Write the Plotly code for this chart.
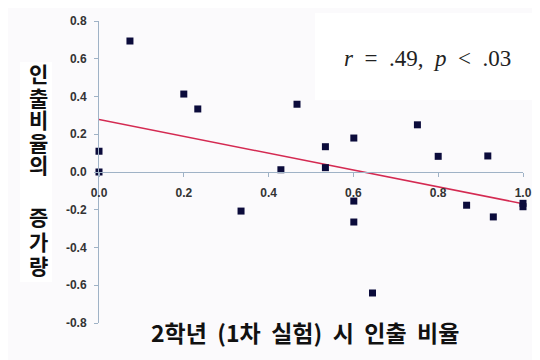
import plotly.graph_objects as go

# Data
x_vals = [0.0, 0.0, 0.073, 0.2, 0.233, 0.335, 0.429, 0.467, 0.534, 0.534,
          0.601, 0.601, 0.601, 0.645, 0.751, 0.80, 0.867, 0.917, 0.93, 1.0, 1.0]
y_vals = [0.11, 0.0, 0.694, 0.413, 0.334, -0.207, 0.012, 0.359, 0.134, 0.023,
          0.18, -0.154, -0.265, -0.641, 0.25, 0.083, -0.176, 0.085, -0.238, -0.166, -0.184]
fit_x = [0.0, 1.0]
fit_y = [0.278, -0.168]
x_ticks = [0.0, 0.2, 0.4, 0.6, 0.8, 1.0]
y_ticks = [-0.8, -0.6, -0.4, -0.2, 0.0, 0.2, 0.4, 0.6, 0.8]
y_title_chars = ["인", "출", "비", "율", "의", "증", "가", "량"]
y_title_pix = [73, 97, 119, 142, 164, 216, 241, 265]  # vertical pixel centres (window px)

AXIS = "#9fb2c6"
BG = "#fbfafc"
OFF = 8  # page body margin of the browser
FW, FH = 540 - OFF, 360 - OFF
# plot area in window pixels: x 99..523, y 21..323
L, T = 99 - OFF, 21 - OFF
R, B = FW - (523 - OFF), FH - (323 - OFF)
PW, PH = FW - L - R, FH - T - B


def px(xp):
    return (xp - OFF - L) / PW


def py(yp):
    return (FH - B - (yp - OFF)) / PH


fig = go.Figure()
fig.add_trace(go.Scatter(x=fit_x, y=fit_y, mode="lines",
                         line=dict(color="#d42a52", width=1.6),
                         hoverinfo="skip", showlegend=False, cliponaxis=False))
fig.add_trace(go.Scatter(x=x_vals, y=y_vals, mode="markers",
                         marker=dict(symbol="square", size=7, color="#0b0b3b",
                                     line=dict(width=0)),
                         showlegend=False, cliponaxis=False))

tick_font = dict(family="Arial, Liberation Sans", size=12, color="#333333", weight="bold")

annotations = [
    dict(text="<i>r</i>  =  .49,  <i>p</i>  &lt;  .03",
         xref="paper", yref="paper", x=px(427), y=py(59),
         showarrow=False, xanchor="center", yanchor="middle",
         font=dict(family="Liberation Serif, DejaVu Serif", size=23, color="#222222")),
    dict(text="2학년  (1차  실험)  시  인출  비율",
         xref="paper", yref="paper", x=px(305), y=py(332),
         showarrow=False, xanchor="center", yanchor="middle",
         font=dict(family="Noto Sans CJK KR", size=23, color="#111111", weight="bold")),
]
for ch, yp in zip(y_title_chars, y_title_pix):
    annotations.append(dict(text=ch, xref="paper", yref="paper", x=px(38), y=py(yp),
                            showarrow=False, xanchor="center", yanchor="middle",
                            font=dict(family="Noto Sans CJK KR", size=21,
                                      color="#111111", weight="bold")))

fig.update_layout(
    width=FW, height=FH,
    margin=dict(l=L, r=R, t=T, b=B, autoexpand=False),
    paper_bgcolor=BG, plot_bgcolor=BG,
    xaxis=dict(range=[0, 1], tickvals=x_ticks,
               ticktext=[f"{v:.1f}" for v in x_ticks],
               anchor="free", position=0.5, automargin=False,
               showline=True, linecolor=AXIS, linewidth=1,
               ticks="outside", ticklen=4, tickcolor=AXIS,
               showgrid=False, zeroline=False,
               ticklabelstandoff=6, tickfont=tick_font),
    yaxis=dict(range=[-0.8, 0.8], tickvals=y_ticks,
               ticktext=[f"{v:.1f}" for v in y_ticks], automargin=False,
               showline=True, linecolor=AXIS, linewidth=1,
               ticks="outside", ticklen=4, tickcolor=AXIS,
               showgrid=False, zeroline=False,
               ticklabelstandoff=5, tickfont=tick_font),
    shapes=[
        dict(type="rect", xref="paper", yref="paper",
             x0=px(315), x1=px(540), y0=py(100), y1=py(13),
             fillcolor="white", line=dict(width=0), layer="below"),
        dict(type="rect", xref="paper", yref="paper",
             x0=px(20), x1=px(52), y0=py(282), y1=py(62),
             fillcolor="white", line=dict(width=0), layer="below"),
    ],
    annotations=annotations,
)

fig.write_html("out.html")
